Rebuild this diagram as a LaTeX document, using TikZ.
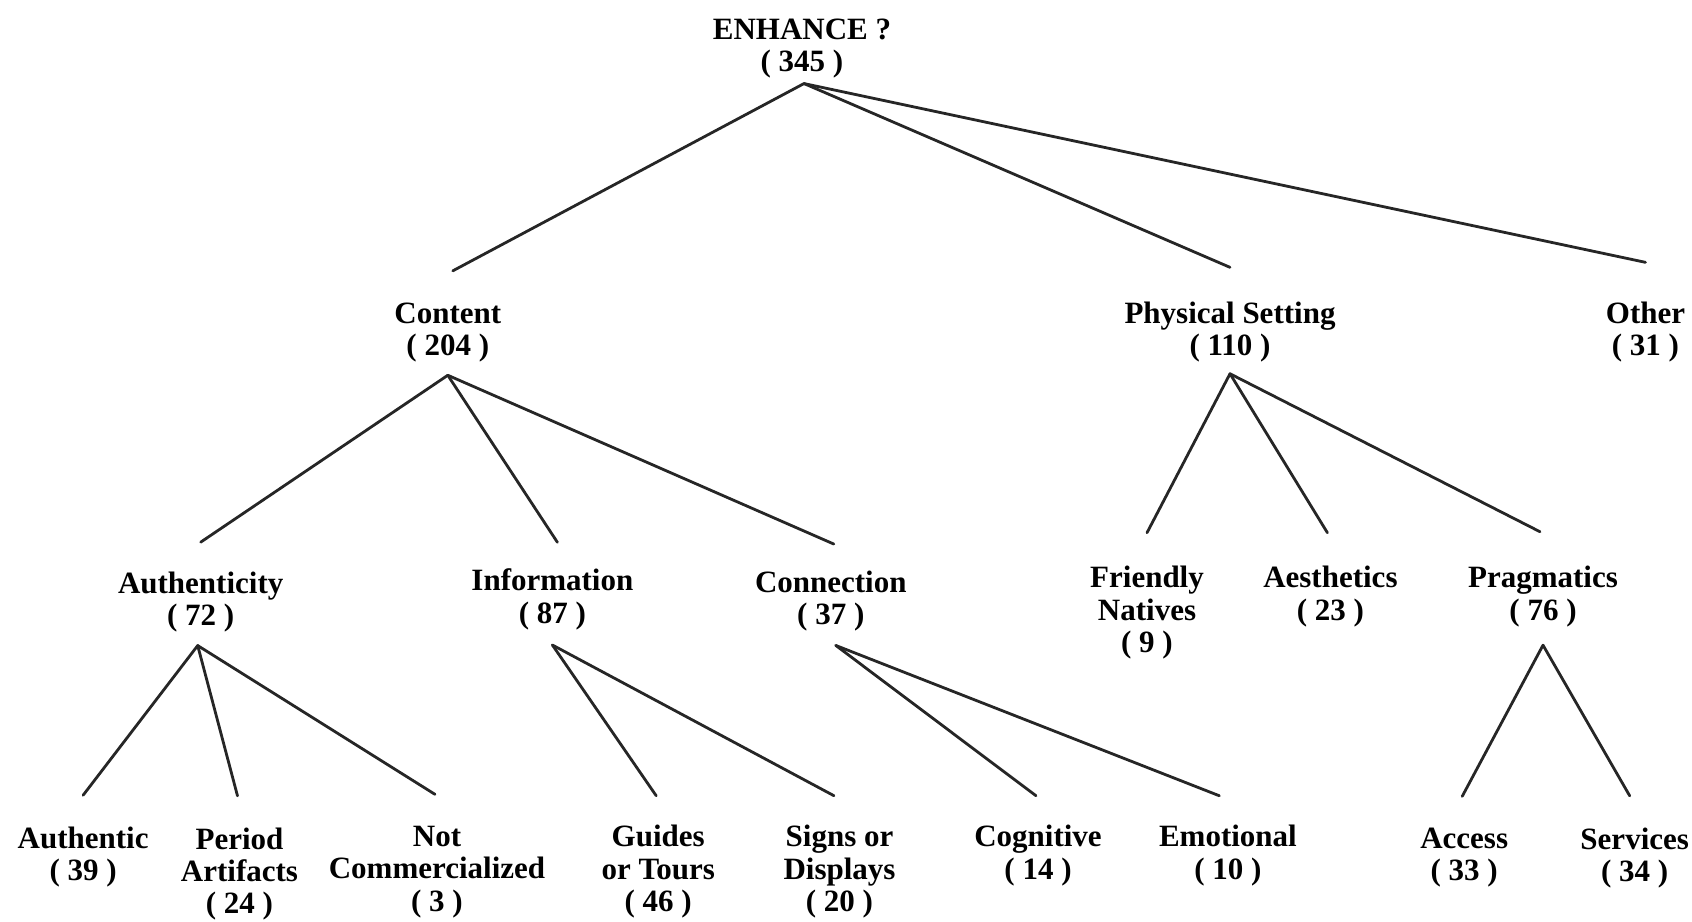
\documentclass[tikz,border=0pt]{standalone}
\usepackage{fontspec}
\setmainfont{Liberation Serif}
\newcommand\lblfont{\fontsize{31}{32.4}\selectfont\bfseries}
\tikzset{
  lbl/.style={align=center, inner sep=0pt, font=\lblfont},
  br/.style={line width=2.8pt, black!85, line cap=round}
}
\begin{document}
\begin{tikzpicture}[x=1pt,y=-1pt]
\useasboundingbox (0,0) rectangle (1692,921);
% level 0
\node[lbl] (root) at (802,48.6) {ENHANCE ?\\( 345 )};
% level 1
\node[lbl] (content) at (447.8,332.3) {Content\\( 204 )};
\node[lbl] (phys) at (1230,332.3) {Physical Setting\\( 110 )};
\node[lbl] (other) at (1645.5,332.3) {Other\\( 31 )};
% level 2
\node[lbl] (auth) at (200.7,602.1) {Authenticity\\( 72 )};
\node[lbl] (info) at (552.4,599.4) {Information\\( 87 )};
\node[lbl] (conn) at (830.8,601) {Connection\\( 37 )};
\node[lbl] (friend) at (1147,612.9) {Friendly\\Natives\\( 9 )};
\node[lbl] (aest) at (1330.4,596.7) {Aesthetics\\( 23 )};
\node[lbl] (prag) at (1543,596.7) {Pragmatics\\( 76 )};
% level 3
\node[lbl] (authc) at (83.1,857.2) {Authentic\\( 39 )};
\node[lbl] (period) at (239.5,874) {Period\\Artifacts\\( 24 )};
\node[lbl] (notcom) at (437,871.9) {Not\\Commercialized\\( 3 )};
\node[lbl] (guides) at (658.2,871.9) {Guides\\or Tours\\( 46 )};
\node[lbl] (signs) at (839.5,871.9) {Signs or\\Displays\\( 20 )};
\node[lbl] (cogn) at (1038,855.7) {Cognitive\\( 14 )};
\node[lbl] (emot) at (1227.9,855.7) {Emotional\\( 10 )};
\node[lbl] (access) at (1464.2,857.8) {Access\\( 33 )};
\node[lbl] (serv) at (1634.7,857.8) {Services\\( 34 )};
% connectors
\draw[br] ([xshift=2pt,yshift=-5pt]root.south) -- ([xshift=5pt,yshift=31.5pt]content.north);
\draw[br] ([xshift=2pt,yshift=-5pt]root.south) -- ([yshift=34.5pt]phys.north);
\draw[br] ([xshift=2pt,yshift=-5pt]root.south) -- ([yshift=39.5pt]other.north);
\draw[br] ([yshift=-13pt]content.south) -- ([yshift=29.5pt]auth.north);
\draw[br] ([yshift=-13pt]content.south) -- ([xshift=5pt,yshift=26.5pt]info.north);
\draw[br] ([yshift=-13pt]content.south) -- ([xshift=3pt,yshift=26.5pt]conn.north);
\draw[br] ([yshift=-11pt]phys.south) -- ([yshift=33.5pt]friend.north);
\draw[br] ([yshift=-11pt]phys.south) -- ([xshift=-3pt,yshift=33.5pt]aest.north);
\draw[br] ([yshift=-11pt]phys.south) -- ([xshift=-3pt,yshift=34.5pt]prag.north);
\draw[br] ([xshift=-3pt,yshift=-13pt]auth.south) -- ([yshift=31.5pt]authc.north);
\draw[br] ([xshift=-3pt,yshift=-13pt]auth.south) -- ([xshift=-2pt,yshift=31.5pt]period.north);
\draw[br] ([xshift=-3pt,yshift=-13pt]auth.south) -- ([xshift=-2pt,yshift=31.5pt]notcom.north);
\draw[br] ([yshift=-15pt]info.south) -- ([xshift=-2pt,yshift=29.5pt]guides.north);
\draw[br] ([yshift=-15pt]info.south) -- ([xshift=-5.5pt,yshift=29.5pt]signs.north);
\draw[br] ([xshift=5pt,yshift=-14pt]conn.south) -- ([xshift=-2pt,yshift=29.5pt]cogn.north);
\draw[br] ([xshift=5pt,yshift=-14pt]conn.south) -- ([xshift=-8.6pt,yshift=29.5pt]emot.north);
\draw[br] ([yshift=-18pt]prag.south) -- ([xshift=-2pt,yshift=31.5pt]access.north);
\draw[br] ([yshift=-18pt]prag.south) -- ([xshift=-5pt,yshift=31.5pt]serv.north);
\end{tikzpicture}
\end{document}
